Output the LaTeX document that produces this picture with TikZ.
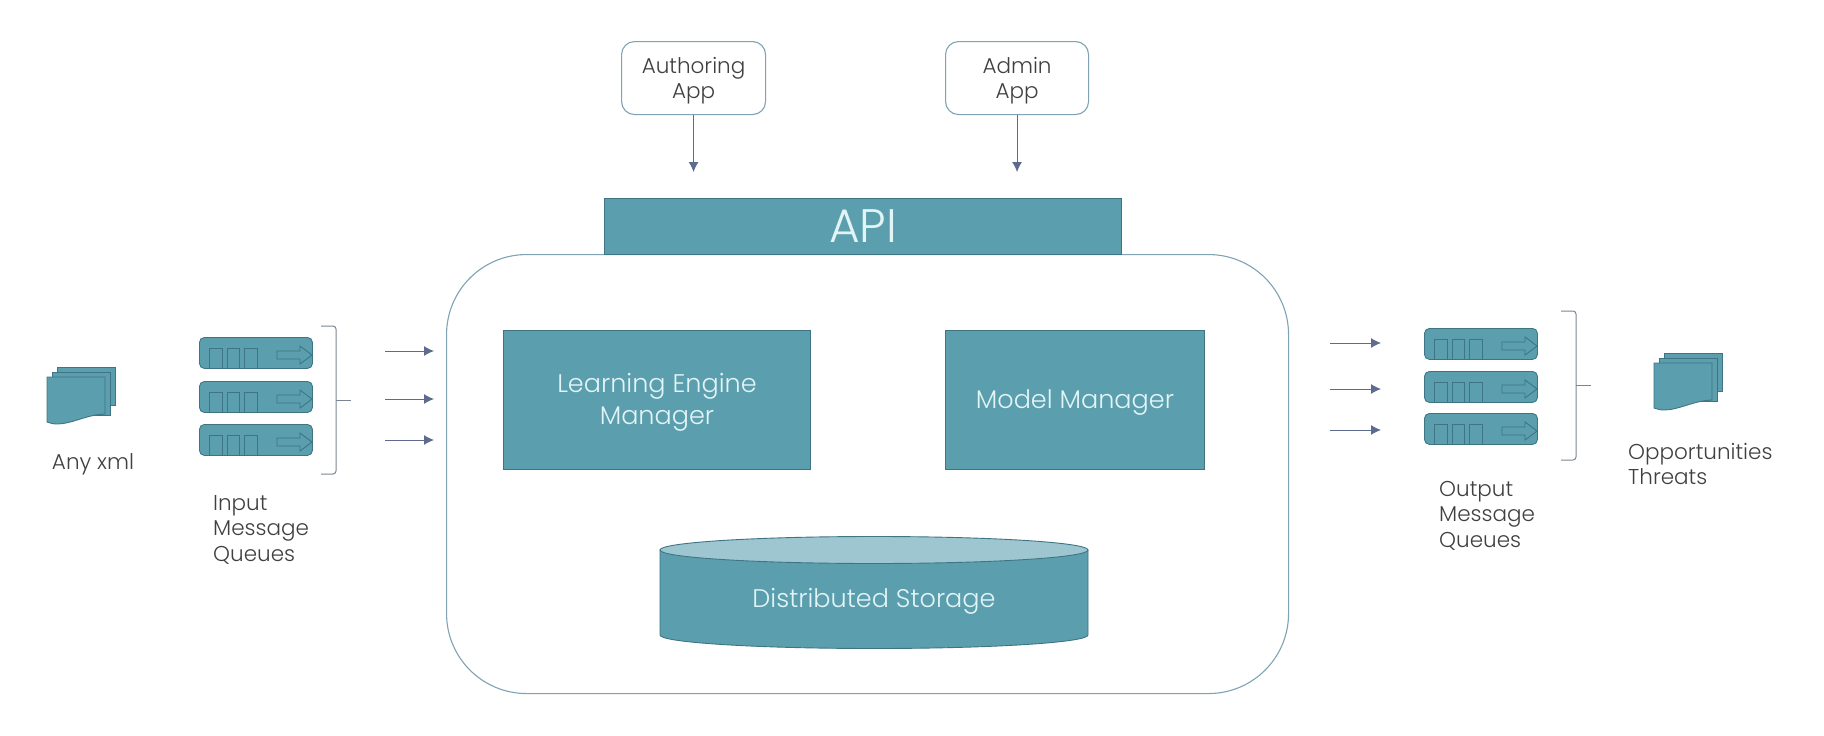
\documentclass[tikz,border=0pt]{standalone}
\usepackage{fontspec}
\setmainfont{Poppins Light}
\usetikzlibrary{arrows.meta,positioning,calc}
\definecolor{tealfill}{HTML}{5B9FAE}
\definecolor{tealedge}{HTML}{3F7484}
\definecolor{tealtop}{HTML}{9DC6D0}
\definecolor{arrowblue}{HTML}{5C6B8E}
\definecolor{frameblue}{HTML}{7FA3B2}
\definecolor{bracegray}{HTML}{7B8591}
\definecolor{inkgray}{HTML}{404040}
\definecolor{inkwhite}{HTML}{E3F4F6}
\newcommand{\smallfont}{\fontsize{21.5}{25.5}\selectfont}
\newcommand{\largefont}{\fontsize{25.5}{32}\selectfont}
\tikzset{
  mbox/.style={draw=tealedge,fill=tealfill,line width=0.9pt,inner sep=0pt,text=inkwhite,align=center,font=\largefont},
  mapp/.style={draw=frameblue,fill=white,line width=1.1pt,rounded corners=13pt,inner sep=0pt,text=inkgray,align=center,font=\smallfont},
  mlabel/.style={text=inkgray,inner sep=0pt,align=left,font=\smallfont},
  mpart/.style={draw=tealedge,fill=tealfill,line width=0.9pt},
  mflow/.style={draw=arrowblue,line width=1pt,-{Latex[length=10pt,width=10pt]}},
  mlower/.style={execute at begin node={\rule{0pt}{#1}}}
}
\newcommand{\mtext}[4][]{
  \node[mlabel,#1] at #2 (#4) {#3};
}
\newcommand{\mqueue}[2]{
  \node[mpart,rounded corners=5pt,anchor=north west,minimum width=113,minimum height=31,inner sep=0pt] at #1 (#2) {};
  \begin{scope}[shift={#1},mpart,fill=none]
    \draw (10,31) -- (10,11) -- (23,11) -- (23,31);
    \draw (28,31) -- (28,11) -- (40,11) -- (40,31);
    \draw (45,31) -- (45,11) -- (58,11) -- (58,31);
    \draw (78,14) -- (101,14) -- (101,9) -- (113,18) -- (101,27) -- (101,22) -- (78,22) -- cycle;
  \end{scope}
}
\newcommand{\mdoc}[2]{
  \node[inner sep=0pt,anchor=north west,minimum width=68,minimum height=57] at #1 (#2) {};
  \begin{scope}[shift={#1}]
    \draw[mpart] (10,0) rectangle (68,38);
    \draw[mpart] (5,5) rectangle (63,48);
    \draw[mpart] (0,10) -- (58,10) -- (58,47) .. controls (38,48) and (25,57) .. (10,57)
      .. controls (6,57) and (3,56) .. (0,55) -- cycle;
  \end{scope}
}
\newcommand{\mbrack}[2]{
  \begin{scope}[shift={#1}]
    \draw[bracegray,line width=1pt,rounded corners=3pt] (0,0) -- (15,0) -- (15,#2) -- (0,#2);
    \draw[bracegray,line width=1pt] (15,#2/2) -- (30,#2/2);
  \end{scope}
}
\newcommand{\medge}[4]{
  \coordinate (#3) at #1;
  \coordinate (#4) at #2;
  \draw[mflow] (#3) -- (#4);
}

\begin{document}
\begin{tikzpicture}[x=1pt,y=-1pt]
  \useasboundingbox (0,0) rectangle (1824,736);

  % centre block
  \node[draw=frameblue,fill=white,line width=1.1pt,rounded corners=80pt,anchor=north west,minimum width=842,minimum height=439] at (446,254) (engine) {};
  \node[mbox,anchor=north west,minimum width=517,minimum height=56,font=\fontsize{47}{47}\selectfont] at (604,198) (api) {API};
  \node[mbox,mlower=56pt,anchor=north west,minimum width=307,minimum height=139] at (503,330) (learning) {Learning Engine\\Manager};
  \node[mbox,mlower=24pt,anchor=north west,minimum width=259,minimum height=139] at (945,330) (model) {Model Manager};

  \draw[mpart] (660,550) -- (660,635) arc[start angle=180,end angle=360,x radius=214pt,y radius=13.5pt] -- (1088,550) -- cycle;
  \draw[draw=tealedge,fill=tealtop,line width=0.9pt] (874,550) ellipse [x radius=214pt,y radius=13.5pt];
  \node[text=inkwhite,inner sep=0pt,font=\largefont] at (874,601) (storage) {Distributed Storage};

  % apps on top
  \node[mapp,mlower=47pt,anchor=north west,minimum width=144,minimum height=73] at (621,41) (authoring) {Authoring\\App};
  \node[mapp,mlower=47pt,anchor=north west,minimum width=143,minimum height=73] at (945,41) (admin) {Admin\\App};
  \coordinate (authoringtip) at (authoring.south |- 0,172);
  \coordinate (admintip) at (admin.south |- 0,172);
  \draw[mflow] (authoring) -- (authoringtip);
  \draw[mflow] (admin) -- (admintip);

  % input side
  \mdoc{(47,367)}{anyxml}
  \mtext{(93,464)}{Any xml}{anyxmltext}
  \mqueue{(199,337)}{inqa}
  \mqueue{(199,381)}{inqb}
  \mqueue{(199,424)}{inqc}
  \mtext[anchor=north west]{(213,495)}{Input\\Message\\Queues}{intext}
  \mbrack{(321,326)}{148}
  \medge{(385,351)}{(434,351)}{ina}{inb}
  \medge{(385,399)}{(434,399)}{inc}{ind}
  \medge{(385,440)}{(434,440)}{ine}{inf}

  % output side
  \medge{(1330,343)}{(1381,343)}{outa}{outb}
  \medge{(1330,389)}{(1381,389)}{outc}{outd}
  \medge{(1330,430)}{(1381,430)}{oute}{outf}
  \mqueue{(1424,328)}{outqa}
  \mqueue{(1424,371)}{outqb}
  \mqueue{(1424,413)}{outqc}
  \mtext[anchor=north west]{(1439,481)}{Output\\Message\\Queues}{outtext}
  \mbrack{(1561,311)}{149}
  \mdoc{(1654,353)}{risks}
  \mtext[anchor=north west]{(1628,443)}{Opportunities\\Threats}{riskstext}
\end{tikzpicture}
\end{document}
